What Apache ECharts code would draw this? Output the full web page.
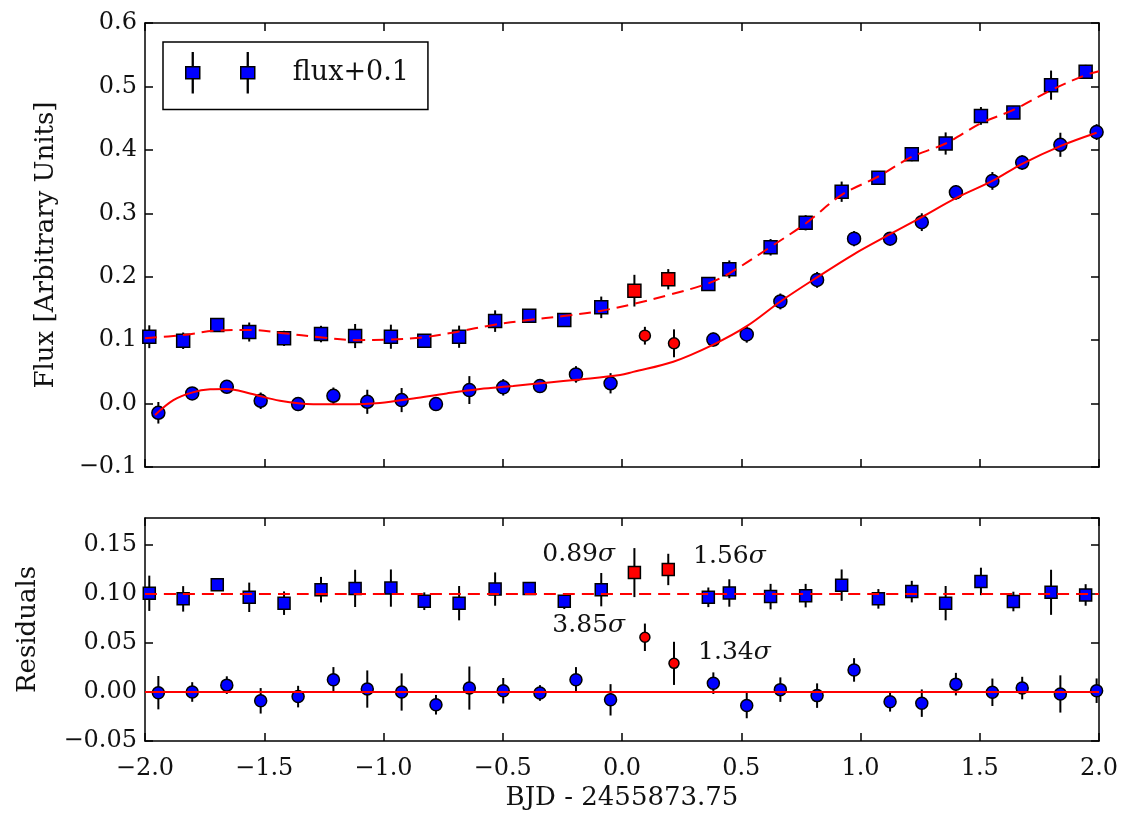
<!DOCTYPE html>
<html>
<head>
<meta charset="utf-8">
<script src="https://cdn.jsdelivr.net/npm/echarts@6/dist/echarts.min.js"></script>
<style>
  html, body { margin: 0; padding: 0; background: #fff; }
  #chart { width: 1147px; height: 817px; }
</style>
</head>
<body>
<div id="chart"></div>
<script>
// ---- data ----
var circX = [-1.944, -1.802, -1.657, -1.515, -1.358, -1.210, -1.068, -0.924, -0.780, -0.640, -0.498, -0.344, -0.193, -0.048,
	0.096, 0.218, 0.383, 0.523, 0.664, 0.818, 0.973, 1.124, 1.257, 1.400, 1.553, 1.678, 1.838, 1.990];
var circY = [-0.0145, 0.016, 0.0265, 0.0044, -0.0008, 0.0123, 0.0028, 0.0055, -0.0008, 0.0213, 0.0256, 0.0276, 0.046, 0.032,
	0.107, 0.095, 0.101, 0.109, 0.161, 0.195, 0.260, 0.260, 0.286, 0.333, 0.351, 0.380, 0.408, 0.428];
var circRes = [-0.0007, 0.0, 0.007, -0.009, -0.0047, 0.0124, 0.003, 0.0, -0.013, 0.004, 0.0013, -0.001, 0.0124, -0.008,
	0.0558, 0.0292, 0.009, -0.0138, 0.0024, -0.0037, 0.0225, -0.010, -0.0114, 0.008, -0.0003, 0.004, -0.002, 0.0013];
var circErr = [0.017, 0.01, 0.009, 0.013, 0.011, 0.013, 0.019, 0.019, 0.01, 0.022, 0.013, 0.008, 0.013, 0.016,
	0.014, 0.022, 0.011, 0.013, 0.0125, 0.0125, 0.012, 0.01, 0.014, 0.0115, 0.014, 0.0115, 0.019, 0.0125];

var sqX = [-1.982, -1.840, -1.697, -1.563, -1.417, -1.262, -1.119, -0.969, -0.829, -0.683, -0.532, -0.389, -0.242, -0.087,
	0.052, 0.194, 0.362, 0.450, 0.623, 0.770, 0.921, 1.075, 1.215, 1.357, 1.505, 1.641, 1.799, 1.944];
var sqY = [0.1054, 0.099, 0.124, 0.1128, 0.1028, 0.1096, 0.1065, 0.1054, 0.099, 0.1054, 0.130, 0.1385, 0.1317, 0.1517,
	0.178, 0.196, 0.1885, 0.2117, 0.2464, 0.285, 0.334, 0.356, 0.393, 0.410, 0.4535, 0.4587, 0.502, 0.523];
var sqRes = [0.1007, 0.095, 0.1094, 0.0966, 0.0906, 0.1044, 0.1057, 0.106, 0.0926, 0.0906, 0.105, 0.1057, 0.0926, 0.1044,
	0.1218, 0.125, 0.0966, 0.101, 0.0973, 0.0983, 0.109, 0.095, 0.1024, 0.0906, 0.1128, 0.0923, 0.1017, 0.099];
var sqErr = [0.018, 0.013, 0.004, 0.015, 0.012, 0.013, 0.019, 0.019, 0.009, 0.0175, 0.017, 0.006, 0.008, 0.017,
	0.025, 0.016, 0.01, 0.014, 0.013, 0.012, 0.016, 0.01, 0.011, 0.0175, 0.014, 0.01, 0.023, 0.011];

// points drawn in red
var outlierIdx = [14, 15];

// model curves
var modelX = [-1.958, -1.881, -1.80, -1.727, -1.657, -1.56, -1.434, -1.294, -1.154, -1.015, -0.875, -0.735, -0.595, -0.456,
	-0.316, -0.176, -0.008, 0.047, 0.215, 0.383, 0.523, 0.663, 0.816, 0.97, 1.124, 1.257, 1.40, 1.553, 1.678, 1.838, 1.99];
var modelY = [-0.018, 0.0055, 0.0177, 0.0224, 0.023, 0.016, 0.0044, -0.001, -0.001, 0.001, 0.008, 0.016, 0.023, 0.0276,
	0.033, 0.038, 0.045, 0.050, 0.066, 0.093, 0.122, 0.1606, 0.1985, 0.235, 0.267, 0.294, 0.324, 0.351, 0.378, 0.406, 0.427];
var dashX = [-2.0, -1.84, -1.70, -1.56, -1.42, -1.266, -1.112, -0.973, -0.833, -0.693, -0.54, -0.393, -0.246, -0.092,
	0.047, 0.194, 0.362, 0.45, 0.623, 0.770, 0.921, 1.075, 1.215, 1.357, 1.505, 1.641, 1.799, 1.944, 2.0];
var dashY = [0.103, 0.108, 0.115, 0.116, 0.111, 0.1044, 0.100, 0.101, 0.1044, 0.113, 0.124, 0.1317, 0.138, 0.146,
	0.157, 0.171, 0.1895, 0.2054, 0.247, 0.284, 0.329, 0.358, 0.389, 0.410, 0.442, 0.463, 0.494, 0.518, 0.524];

var resLineX = [-2.0, 2.0];
var resZero = [0.0, 0.0];
var resOffset = [0.1, 0.1];

// sigma labels in the residual panel
var annotText = ['0.89', '1.56', '3.85', '1.34'];
var annotX = [-0.029, 0.298, 0.013, 0.319];
var annotY = [0.140, 0.138, 0.068, 0.040];
var annotAlign = ['right', 'left', 'right', 'left'];

// ---- helpers ----
var FONT = 'DejaVu Serif';
var BLUE = '#0000ff', RED = '#ff0000';

function pts(xs, ys, keep) {
	var out = [];
	for (var i = 0; i < xs.length; i++) {
		if (keep(i)) out.push([xs[i], ys[i]]);
	}
	return out;
}
function isOut(i) { return outlierIdx.indexOf(i) >= 0; }
function isIn(i) { return outlierIdx.indexOf(i) < 0; }
function all() { return true; }

function errBars(xs, ys, es, gi) {
	var d = [];
	for (var i = 0; i < xs.length; i++) d.push([xs[i], ys[i], es[i]]);
	return {
		type: 'custom', xAxisIndex: gi * 2, yAxisIndex: gi * 2, z: 1, silent: true,
		data: d, encode: { x: 0, y: 1 }, clip: true,
		renderItem: function (params, api) {
			var x = api.value(0), y = api.value(1), e = api.value(2);
			var a = api.coord([x, y - e]), b = api.coord([x, y + e]);
			return { type: 'line', shape: { x1: a[0], y1: a[1], x2: b[0], y2: b[1] },
				style: { stroke: '#000', lineWidth: 2 } };
		}
	};
}
function dots(name, data, sym, size, color, gi) {
	return {
		name: name, type: 'scatter', xAxisIndex: gi * 2, yAxisIndex: gi * 2, z: 2, silent: true,
		symbol: sym, symbolSize: size, data: data,
		itemStyle: { color: color, borderColor: '#000', borderWidth: 1.5, opacity: 1 }
	};
}
function curve(data, dashed, gi) {
	return {
		type: 'line', xAxisIndex: gi * 2, yAxisIndex: gi * 2, z: 3, silent: true,
		data: data, showSymbol: false, smooth: 0.35,
		lineStyle: { color: RED, width: 2, type: dashed ? [12, 7] : 'solid' }
	};
}
function minus(s) { return s.replace('-', '\u2212'); }

var lineStyle = { color: '#000', width: 1.5 };
function xAx(gi, pos, labels) {
	return {
		type: 'value', gridIndex: gi, position: pos, min: -2, max: 2, interval: 0.5,
		axisLine: { show: true, onZero: false, lineStyle: lineStyle },
		axisTick: { show: true, inside: true, length: 8, lineStyle: lineStyle },
		splitLine: { show: false },
		axisLabel: { show: labels, margin: 16, fontFamily: FONT, fontSize: 24, color: '#111',
			formatter: function (v) { return minus(v.toFixed(1)); } },
		name: labels ? 'BJD - 2455873.75' : '', nameLocation: 'middle', nameGap: 44,
		nameTextStyle: { fontFamily: FONT, fontSize: 26, color: '#111' }
	};
}
function yAx(gi, pos, labels, min, max, step, dec, name, gap) {
	return {
		type: 'value', gridIndex: gi, position: pos, min: min, max: max, interval: step,
		axisLine: { show: true, onZero: false, lineStyle: lineStyle },
		axisTick: { show: true, inside: true, length: 8, lineStyle: lineStyle },
		splitLine: { show: false },
		axisLabel: { show: labels, margin: 8, fontFamily: FONT, fontSize: 24, color: '#111', showMaxLabel: gi === 0,
			formatter: function (v) { return minus(v.toFixed(dec)); } },
		name: labels ? name : '', nameLocation: 'middle', nameGap: gap, nameRotate: 90,
		nameTextStyle: { fontFamily: FONT, fontSize: 26, color: '#111' }
	};
}

var annotData = [];
for (var k = 0; k < annotText.length; k++) {
	annotData.push({
		value: [annotX[k], annotY[k]],
		label: { formatter: annotText[k] + '{s|\u03c3}', align: annotAlign[k] }
	});
}

var legendIcon = 'path://M0,14 L14,14 L14,26 L0,26 Z M55,14 L69,14 L69,26 L55,26 Z ' +
	'M6.6,0 L7.4,0 L7.4,14 L6.6,14 Z M6.6,26 L7.4,26 L7.4,40 L6.6,40 Z ' +
	'M61.6,0 L62.4,0 L62.4,14 L61.6,14 Z M61.6,26 L62.4,26 L62.4,40 L61.6,40 Z';

var chart = echarts.init(document.getElementById('chart'), null, { renderer: 'canvas' });
var option = {
	animation: false,
	backgroundColor: '#fff',
	grid: [
		{ left: 145, right: 48, top: 23, height: 444 },
		{ left: 145, right: 48, top: 518, height: 223 }
	],
	xAxis: [xAx(0, 'bottom', false), xAx(0, 'top', false), xAx(1, 'bottom', true), xAx(1, 'top', false)],
	yAxis: [
		yAx(0, 'left', true, -0.1, 0.6, 0.1, 1, 'Flux [Arbitrary Units]', 86),
		yAx(0, 'right', false, -0.1, 0.6, 0.1, 1, '', 0),
		yAx(1, 'left', true, -0.05, 0.1775, 0.05, 2, 'Residuals', 104),
		yAx(1, 'right', false, -0.05, 0.1775, 0.05, 2, '', 0)
	],
	legend: {
		left: 163, top: 42, selectedMode: false,
		data: [{ name: 'flux+0.1', icon: legendIcon }],
		itemWidth: 69, itemHeight: 40,
		borderColor: '#000', borderWidth: 1.5, borderRadius: 0,
		padding: [10, 19, 16, 22],
		itemStyle: { color: BLUE, borderColor: '#000', borderWidth: 1.5 },
		textStyle: { fontFamily: FONT, fontSize: 27, color: '#111', padding: [6, 0, 0, 33] }
	},
	series: [
		errBars(circX, circY, circErr, 0),
		errBars(sqX, sqY, sqErr, 0),
		dots('flux', pts(circX, circY, isIn), 'circle', 13, BLUE, 0),
		dots('flux out', pts(circX, circY, isOut), 'circle', 11, RED, 0),
		dots('flux+0.1', pts(sqX, sqY, isIn), 'rect', 13, BLUE, 0),
		dots('flux+0.1 out', pts(sqX, sqY, isOut), 'rect', 13, RED, 0),
		curve(pts(modelX, modelY, all), false, 0),
		curve(pts(dashX, dashY, all), true, 0),

		errBars(circX, circRes, circErr, 1),
		errBars(sqX, sqRes, sqErr, 1),
		dots('res', pts(circX, circRes, isIn), 'circle', 12, BLUE, 1),
		dots('res out', pts(circX, circRes, isOut), 'circle', 10, RED, 1),
		dots('res+0.1', pts(sqX, sqRes, isIn), 'rect', 12, BLUE, 1),
		dots('res+0.1 out', pts(sqX, sqRes, isOut), 'rect', 12, RED, 1),
		curve(pts(resLineX, resZero, all), false, 1),
		curve(pts(resLineX, resOffset, all), true, 1),
		{
			type: 'scatter', xAxisIndex: 2, yAxisIndex: 2, z: 4, silent: true,
			symbolSize: 0, data: annotData,
			itemStyle: { opacity: 1 },
			label: {
				show: true, position: 'inside', verticalAlign: 'middle', opacity: 1,
				fontFamily: FONT, fontSize: 25, color: '#111',
				rich: { s: { fontFamily: FONT, fontSize: 25, fontStyle: 'italic', color: '#111' } }
			}
		}
	]
};
chart.setOption(option);
</script>
</body>
</html>
